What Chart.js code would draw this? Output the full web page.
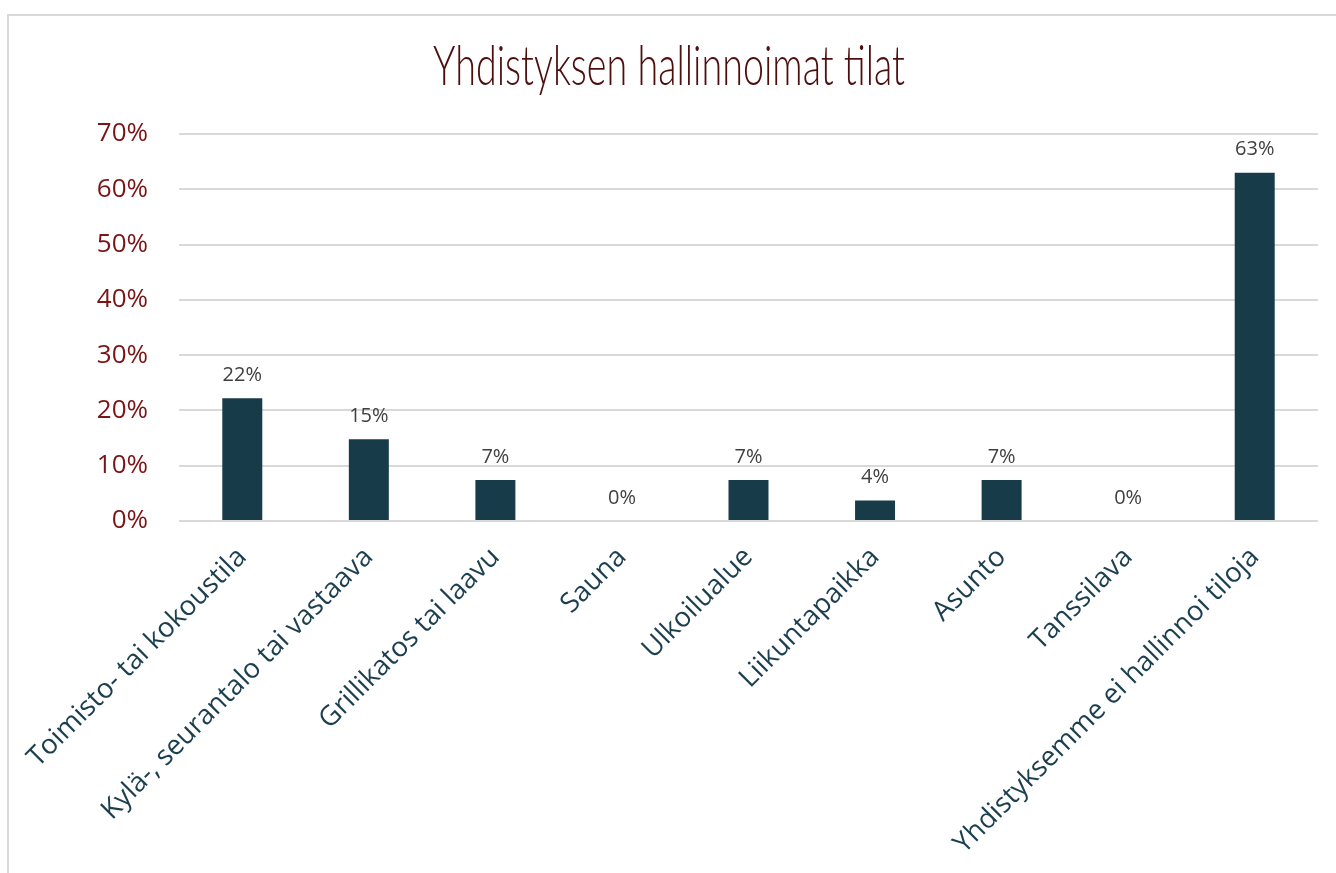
<!DOCTYPE html>
<html>
<head>
<meta charset="utf-8">
<script src="https://cdn.jsdelivr.net/npm/chart.js@4.4.1/dist/chart.umd.min.js"></script>
<style>
  html, body { margin: 0; padding: 0; background: #fff; overflow: hidden; }
  #frame { position: absolute; left: 7px; top: 14px; width: 1400px; height: 900px; border: 2px solid #d9d9d9; box-sizing: border-box; }
  #wrap { position: absolute; left: 0; top: 0; width: 1336px; height: 873px; }
</style>
</head>
<body>
<div id="frame"></div>
<div id="wrap"><canvas id="myChart" width="1336" height="873"></canvas></div>
<script>
// otsikko ja kategoriat
const title = 'Yhdistyksen hallinnoimat tilat'

const categories = [
  'Toimisto- tai kokoustila',
  'Kylä-, seurantalo tai vastaava',
  'Grillikatos tai laavu',
  'Sauna',
  'Ulkoilualue',
  'Liikuntapaikka',
  'Asunto',
  'Tanssilava',
  'Yhdistyksemme ei hallinnoi tiloja'
]

// osuudet prosentteina
const shares = [22.2, 14.8, 7.4, 0, 7.4, 3.7, 7.4, 0, 63.0]

const yTicks = [0, 10, 20, 30, 40, 50, 60, 70]

// otsikko piirretään itse, jotta kapea fontti saadaan oikean levyiseksi
const titlePlugin = {
  id: 'narrowTitle',
  afterDraw(chart) {
    const ctx = chart.ctx
    ctx.save()
    ctx.font = '300 56px Lato, "Open Sans", sans-serif'
    const w = ctx.measureText(title).width
    const sx = 472 / w
    ctx.translate(669, 85)
    ctx.scale(sx, 1)
    ctx.fillStyle = '#4d0e0e'
    ctx.textAlign = 'center'
    ctx.textBaseline = 'alphabetic'
    ctx.fillText(title, 0, 0)
    ctx.restore()
  }
}

// arvot pylväiden päälle
const valueLabels = {
  id: 'valueLabels',
  afterDatasetsDraw(chart) {
    const ctx = chart.ctx
    const meta = chart.getDatasetMeta(0)
    ctx.save()
    ctx.font = '20px "Open Sans", sans-serif'
    ctx.fillStyle = '#404040'
    ctx.textAlign = 'center'
    ctx.textBaseline = 'bottom'
    meta.data.forEach((bar, i) => {
      ctx.fillText(Math.round(shares[i]) + '%', bar.x, bar.y - 13)
    })
    ctx.restore()
  }
}

const ctx = document.getElementById('myChart')

new Chart(ctx, {
  type: 'bar',
  data: {
    labels: categories,
    datasets: [{
      data: shares,
      backgroundColor: '#183b4a',
      barPercentage: 0.316,
      categoryPercentage: 1
    }]
  },
  options: {
    responsive: false,
    animation: false,
    layout: { padding: { left: 0, right: 18, top: 134, bottom: 0 } },
    plugins: {
      legend: { display: false },
      tooltip: { enabled: false }
    },
    scales: {
      x: {
        grid: { display: false },
        border: { display: false },
        ticks: {
          color: '#1c3f4f',
          font: { family: 'Open Sans', size: 27.5 },
          maxRotation: 45,
          minRotation: 45,
          padding: 12,
          autoSkip: false
        },
        afterFit(scale) { scale.height = 873 - 521 }
      },
      y: {
        min: 0,
        max: 70,
        afterBuildTicks(scale) { scale.ticks = yTicks.map(v => ({ value: v })) },
        grid: { color: '#d9d9d9', lineWidth: 2, drawTicks: false },
        border: { display: false },
        ticks: {
          color: '#7b1416',
          font: { family: 'Open Sans', size: 26 },
          padding: 31,
          callback: v => v + '%'
        },
        afterFit(scale) { scale.width = 179 }
      }
    }
  },
  plugins: [titlePlugin, valueLabels]
})
</script>
</body>
</html>
